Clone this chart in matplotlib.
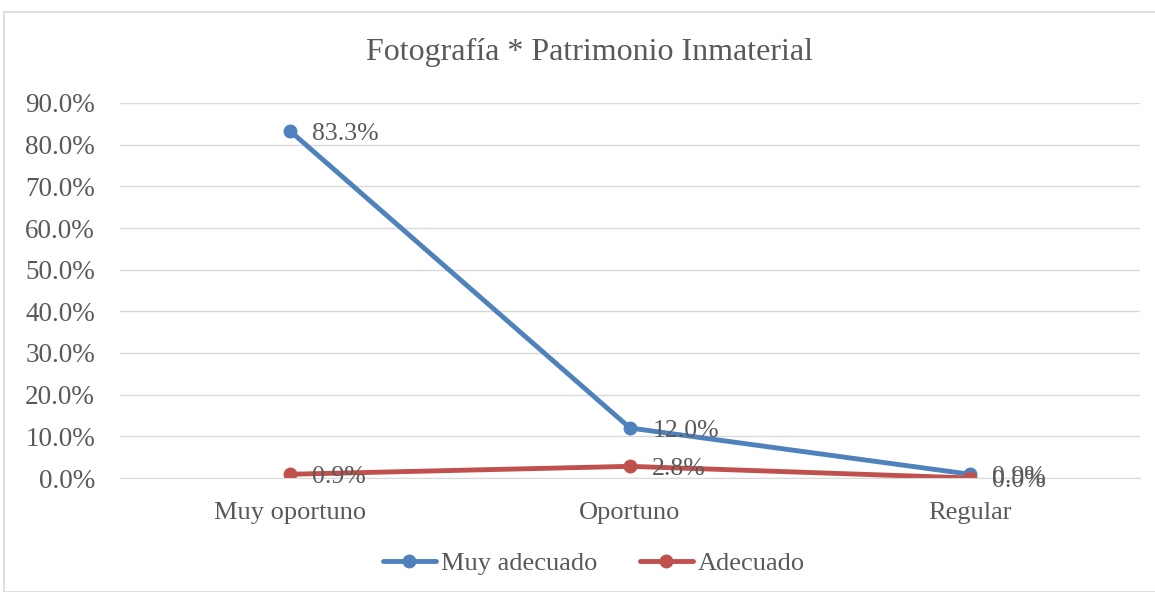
import matplotlib.pyplot as plt
from matplotlib.patches import Rectangle
from matplotlib.ticker import FuncFormatter

categories = ["Muy oportuno", "Oportuno", "Regular"]
muy_adecuado = [83.3, 12.0, 0.9]
adecuado = [0.9, 2.8, 0.0]
series = [("Muy adecuado", muy_adecuado, "#4F81BD"), ("Adecuado", adecuado, "#C0504D")]

plt.rcParams["font.family"] = ["Liberation Serif", "DejaVu Serif"]
txt = "#595959"

fig = plt.figure(figsize=(11.55, 5.92), dpi=100)
fig.patches.append(Rectangle((4 / 1155, 0), 1.0, 1 - 12 / 592, transform=fig.transFigure,
                             fill=False, edgecolor="#D9D9D9", linewidth=1.2))
ax = fig.add_axes([120 / 1155, 1 - 478 / 592, 1020 / 1155, 375 / 592])

x = list(range(len(categories)))
for name, vals, col in series:
    ax.plot(x, vals, color=col, linewidth=3.5, marker="o", markersize=9, label=name,
            solid_capstyle="round")
    for xi, v in zip(x, vals):
        ax.annotate(f"{v:.1f}%", (xi, v), xytext=(16, -2), textcoords="offset points",
                    ha="left", va="center", fontsize=18.5, color=txt)

ax.set_xlim(-0.5, 2.5)
ax.set_ylim(0, 90)
ax.set_yticks(range(0, 91, 10))
ax.yaxis.set_major_formatter(FuncFormatter(lambda v, p: f"{v:.1f}%"))
ax.set_xticks(x)
ax.set_xticklabels(categories)
ax.grid(axis="y", color="#D9D9D9", linewidth=1)
ax.set_axisbelow(True)
for s in ["top", "right", "left"]:
    ax.spines[s].set_visible(False)
ax.spines["bottom"].set_color("#D9D9D9")
ax.tick_params(axis="x", length=0, labelsize=19, labelcolor=txt, pad=17)
ax.tick_params(axis="y", length=0, labelsize=19.5, labelcolor=txt, pad=18)

fig.text(589 / 1155, 1 - 52 / 592, "Fotografía * Patrimonio Inmaterial", fontsize=23,
         color=txt, ha="center", va="center")
fig.legend(loc="center", bbox_to_anchor=(594 / 1155, 1 - 563 / 592), ncol=2, frameon=False,
           fontsize=19, labelcolor=txt, handlelength=2.0, handletextpad=0.2, columnspacing=1.6)

fig.savefig("out.png", dpi=100)
